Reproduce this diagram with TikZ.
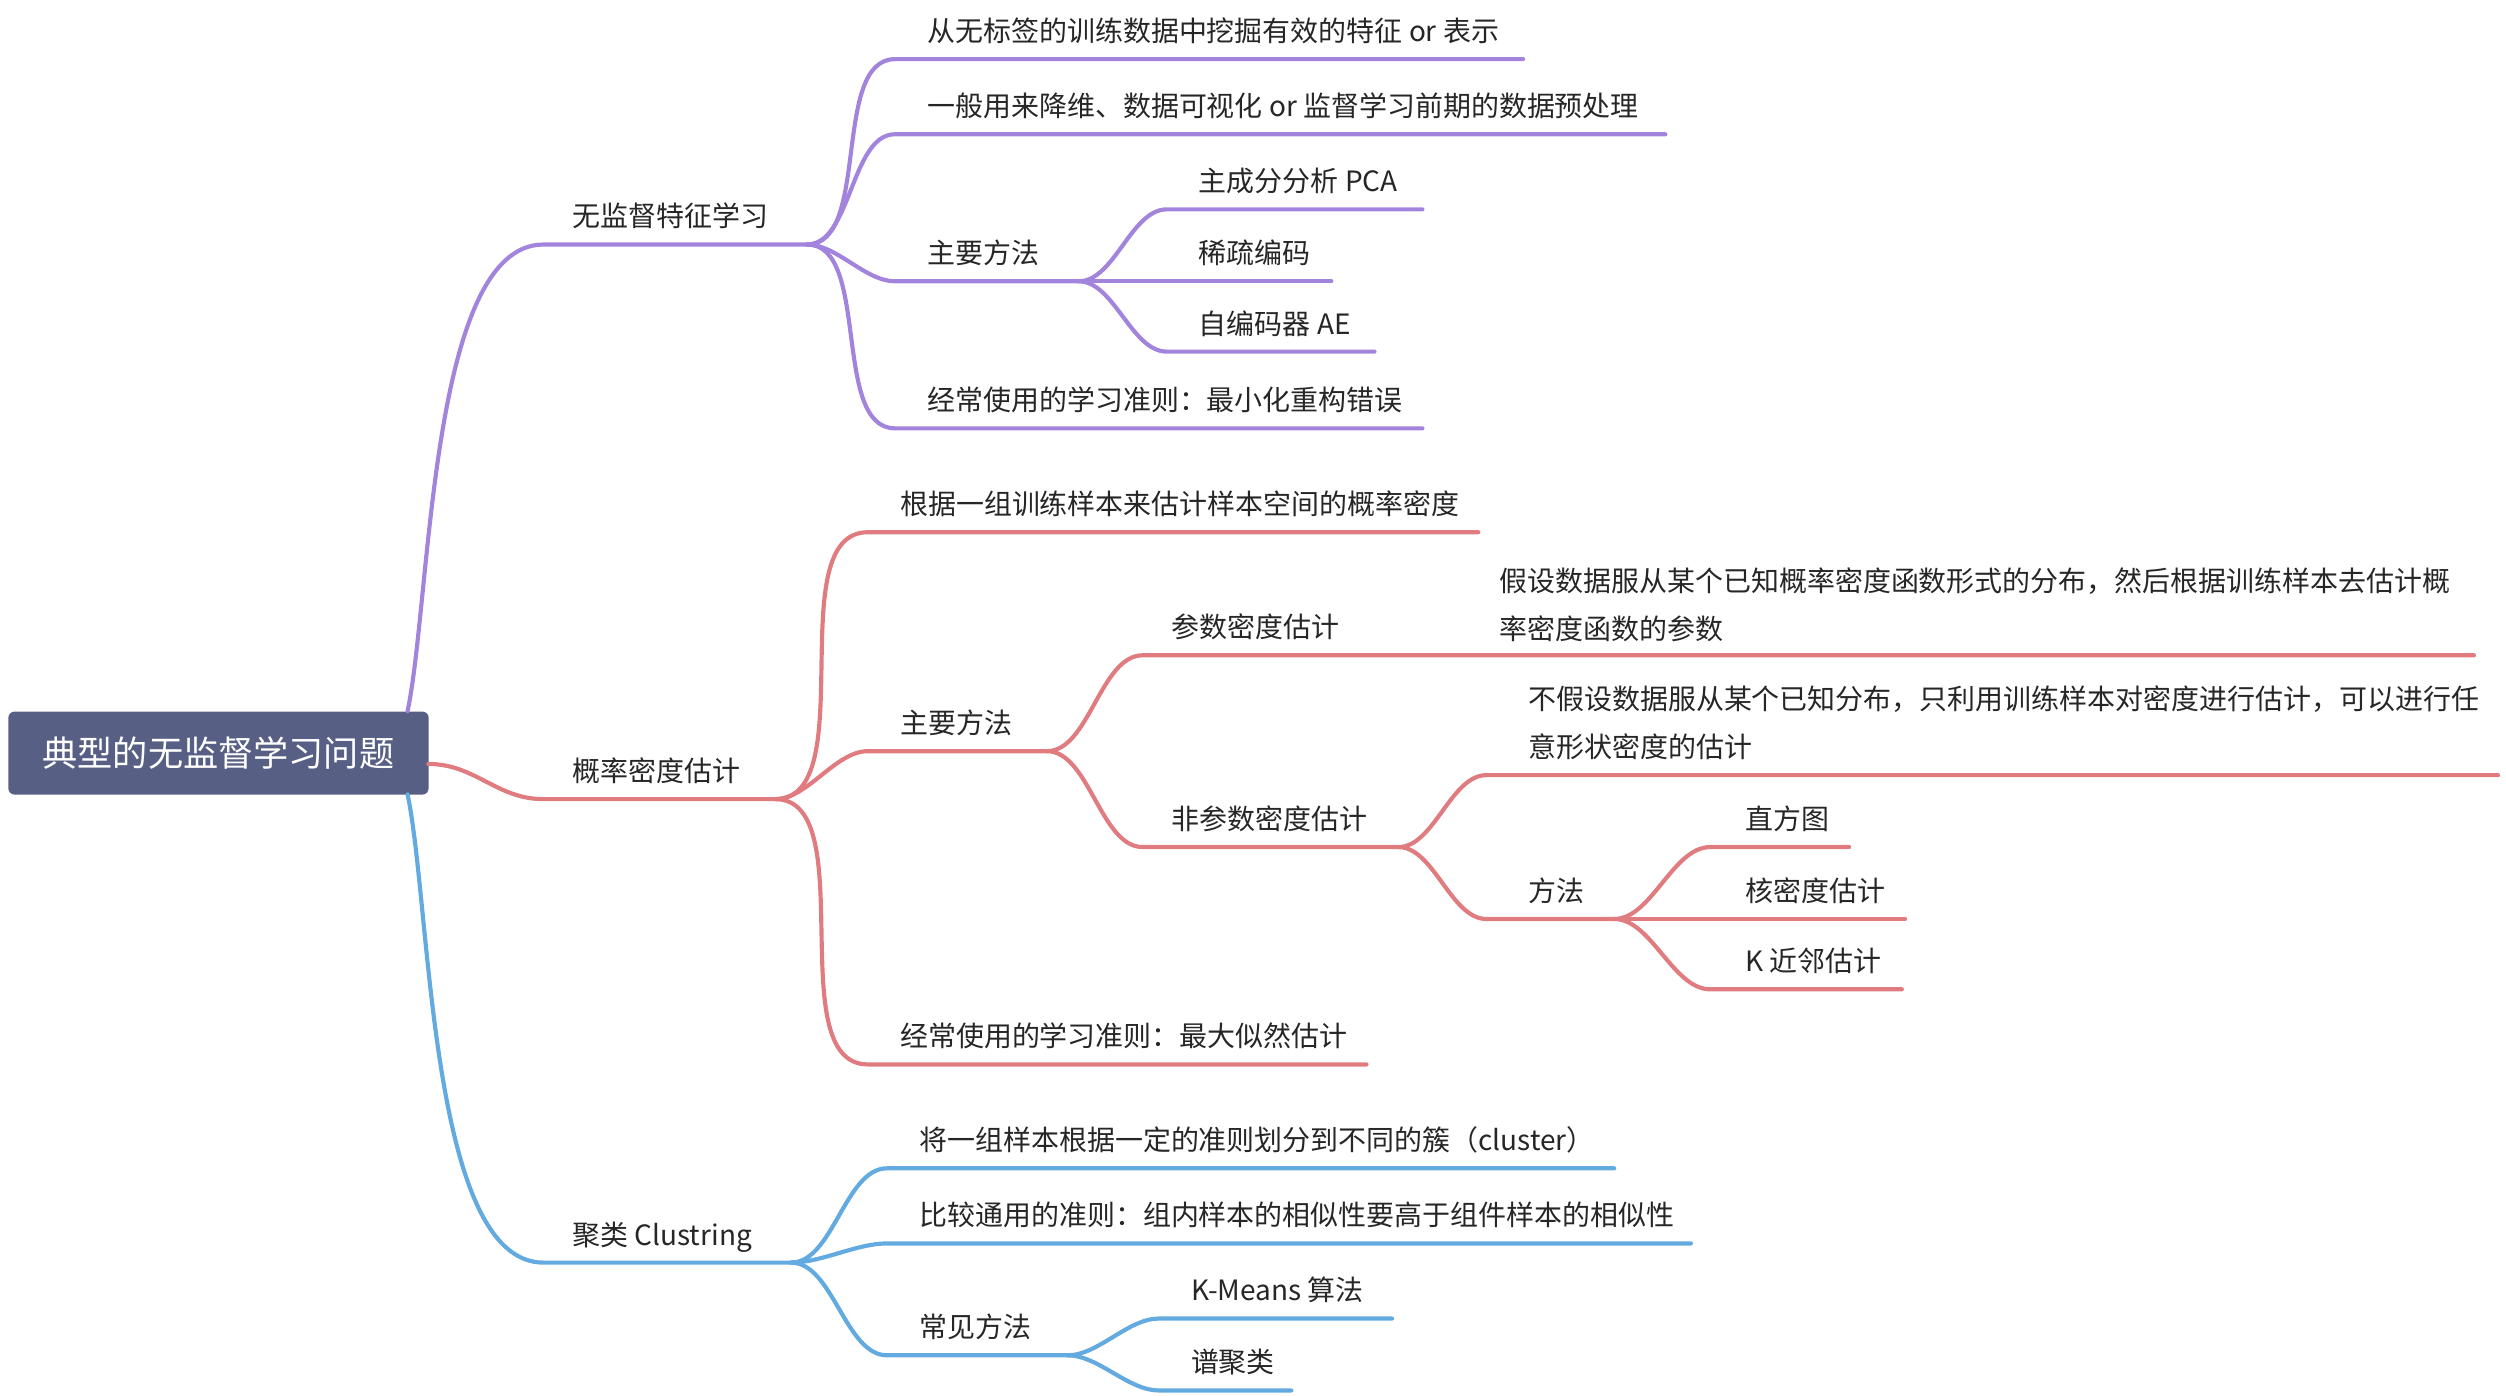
\documentclass[tikz,border=0pt]{standalone}
\usepackage{fontspec}
\newfontfamily\cjk{Noto Sans CJK SC}
\usetikzlibrary{positioning, calc}
\definecolor{pucol}{HTML}{A384DD}
\definecolor{recol}{HTML}{E07C80}
\definecolor{blcol}{HTML}{62AAE0}
\definecolor{rootcol}{HTML}{585F84}

\begin{document}
\begin{tikzpicture}[x=1pt, y=-1pt, font=\cjk\fontsize{17.5}{30}\selectfont,
  txt/.style={anchor=base west, inner sep=0pt, text=black!85},
  two/.style={txt, align=left},
  pu/.style={draw=pucol, line width=2.6pt, line cap=round},
  re/.style={draw=recol, line width=2.6pt, line cap=round},
  bl/.style={draw=blcol, line width=2.6pt, line cap=round},
  br/.style={out=0, in=180, looseness=0.8}]
  \useasboundingbox (0,0) rectangle (1568,873);
  % root
  \node[fill=rootcol, rounded corners=4pt, minimum width=263pt,
    minimum height=52pt, text=white, font=\cjk\fontsize{22}{26}\selectfont,
    anchor=north west] (root) at (5,445) {典型的无监督学习问题};
  \coordinate (rpu) at (255,445);
  \coordinate (rre) at (268,478);
  \coordinate (rbl) at (255,497);

  % unsupervised feature learning
  \coordinate (fA) at (340,153); \coordinate (fB) at (505,153);
  \node[txt] (f) at ($(fA)+(18,-11)$) {无监督特征学习};
  \draw[pu] (rpu) to[out=78, in=180, looseness=0.6] (fA) -- (fB);
  \coordinate (f1A) at (560,37); \coordinate (f1B) at (953,37);
  \node[txt] (f1) at ($(f1A)+(20,-11)$) {从无标签的训练数据中挖掘有效的特征 or 表示};
  \coordinate (f2A) at (560,84); \coordinate (f2B) at (1042,84);
  \node[txt] (f2) at ($(f2A)+(20,-11)$) {一般用来降维、数据可视化 or 监督学习前期的数据预处理};
  \coordinate (f3A) at (560,176); \coordinate (f3B) at (675,176);
  \node[txt] (f3) at ($(f3A)+(20,-11)$) {主要方法};
  \coordinate (f4A) at (560,268); \coordinate (f4B) at (890,268);
  \node[txt] (f4) at ($(f4A)+(20,-11)$) {经常使用的学习准则：最小化重构错误};
  \foreach \n in {f1,f2,f3,f4}
    \draw[pu] (fB) to[br] (\n A) -- (\n B);
  \coordinate (m1A) at (730,131); \coordinate (m1B) at (890,131);
  \node[txt] (m1) at ($(m1A)+(20,-11)$) {主成分分析 PCA};
  \coordinate (m2A) at (730,176); \coordinate (m2B) at (833,176);
  \node[txt] (m2) at ($(m2A)+(20,-11)$) {稀疏编码};
  \coordinate (m3A) at (730,220); \coordinate (m3B) at (860,220);
  \node[txt] (m3) at ($(m3A)+(20,-11)$) {自编码器 AE};
  \foreach \n in {m1,m2,m3}
    \draw[pu] (f3B) to[br] (\n A) -- (\n B);

  % density estimation
  \coordinate (dA) at (340,500); \coordinate (dB) at (485,500);
  \node[txt] (d) at ($(dA)+(18,-11)$) {概率密度估计};
  \draw[re] (rre) to[out=0, in=180] (dA) -- (dB);
  \coordinate (d1A) at (543,333); \coordinate (d1B) at (925,333);
  \node[txt] (d1) at ($(d1A)+(20,-11)$) {根据一组训练样本来估计样本空间的概率密度};
  \coordinate (d2A) at (543,470); \coordinate (d2B) at (655,470);
  \node[txt] (d2) at ($(d2A)+(20,-11)$) {主要方法};
  \coordinate (d3A) at (543,666); \coordinate (d3B) at (855,666);
  \node[txt] (d3) at ($(d3A)+(20,-11)$) {经常使用的学习准则：最大似然估计};
  \foreach \n in {d1,d2,d3}
    \draw[re] (dB) to[br] (\n A) -- (\n B);
  \coordinate (pA) at (715,410); \coordinate (pB) at (1548,410);
  \node[txt] (p) at ($(pA)+(18,-11)$) {参数密度估计};
  \node[two] (p1) at (938,400) {假设数据服从某个已知概率密度函数形式的分布，然后根据训练样本去估计概\\率密度函数的参数};
  \coordinate (nA) at (715,530); \coordinate (nB) at (875,530);
  \node[txt] (n) at ($(nA)+(18,-11)$) {非参数密度估计};
  \foreach \n in {p,n}
    \draw[re] (d2B) to[br] (\n A) -- (\n B);
  \coordinate (n1A) at (930,485); \coordinate (n1B) at (1563,485);
  \node[two] (n1) at (956,474) {不假设数据服从某个已知分布，只利用训练样本对密度进行估计，可以进行任\\意形状密度的估计};
  \coordinate (n2A) at (930,575); \coordinate (n2B) at (1010,575);
  \node[txt] (n2) at ($(n2A)+(26,-11)$) {方法};
  \foreach \n in {n1,n2}
    \draw[re] (nB) to[br] (\n A) -- (\n B);
  \coordinate (h1A) at (1070,530); \coordinate (h1B) at (1157,530);
  \node[txt] (h1) at ($(h1A)+(22,-11)$) {直方图};
  \coordinate (h2A) at (1070,575); \coordinate (h2B) at (1192,575);
  \node[txt] (h2) at ($(h2A)+(22,-11)$) {核密度估计};
  \coordinate (h3A) at (1070,619); \coordinate (h3B) at (1190,619);
  \node[txt] (h3) at ($(h3A)+(22,-11)$) {K 近邻估计};
  \foreach \n in {h1,h2,h3}
    \draw[re] (n2B) to[br] (\n A) -- (\n B);

  % clustering
  \coordinate (cA) at (340,790); \coordinate (cB) at (495,790);
  \node[txt] (c) at ($(cA)+(18,-11)$) {聚类 Clustring};
  \draw[bl] (rbl) to[out=-78, in=180, looseness=0.6] (cA) -- (cB);
  \coordinate (c1A) at (555,731); \coordinate (c1B) at (1010,731);
  \node[txt] (c1) at ($(c1A)+(20,-11)$) {将一组样本根据一定的准则划分到不同的簇（cluster）};
  \coordinate (c2A) at (555,778); \coordinate (c2B) at (1058,778);
  \node[txt] (c2) at ($(c2A)+(20,-11)$) {比较通用的准则：组内样本的相似性要高于组件样本的相似性};
  \coordinate (c3A) at (555,848); \coordinate (c3B) at (668,848);
  \node[txt] (c3) at ($(c3A)+(20,-11)$) {常见方法};
  \foreach \n in {c1,c2,c3}
    \draw[bl] (cB) to[br] (\n A) -- (\n B);
  \coordinate (k1A) at (725,825); \coordinate (k1B) at (871,825);
  \node[txt] (k1) at ($(k1A)+(20,-11)$) {K-Means 算法};
  \coordinate (k2A) at (725,870); \coordinate (k2B) at (808,870);
  \node[txt] (k2) at ($(k2A)+(20,-11)$) {谱聚类};
  \foreach \n in {k1,k2}
    \draw[bl] (c3B) to[br] (\n A) -- (\n B);
\end{tikzpicture}
\end{document}
